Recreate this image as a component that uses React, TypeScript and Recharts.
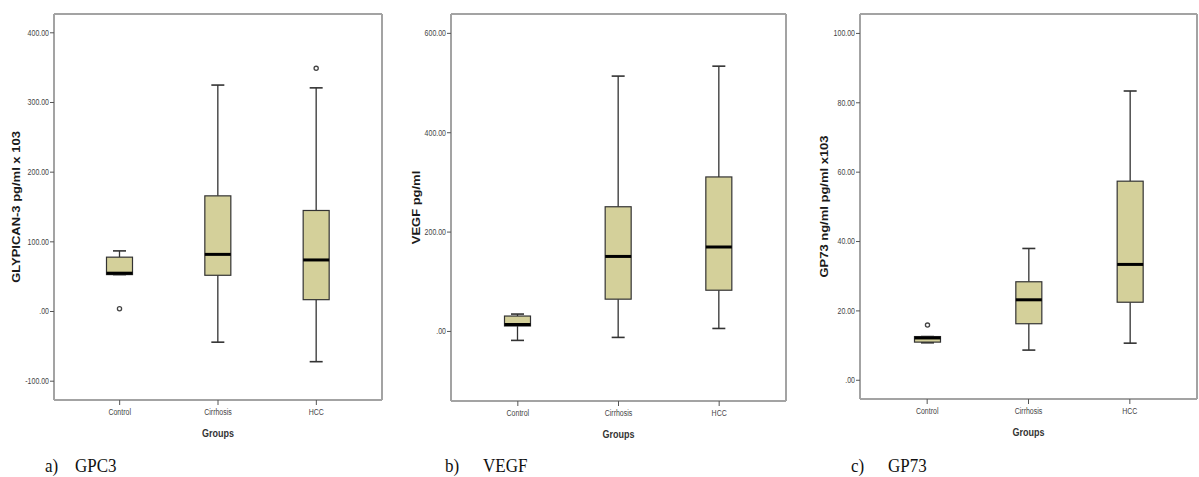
import React from 'react';
import { ComposedChart, Bar, XAxis, YAxis } from 'recharts';

// ---- categories ----
const groups = ['Control', 'Cirrhosis', 'HCC'];

// ---- a) GPC3 (GLYPICAN-3 pg/ml x 103) ----
const gpc3Min = [53, -44, -72];
const gpc3Q1 = [53, 52, 17];
const gpc3Median = [55, 82, 74];
const gpc3Q3 = [78, 166, 145];
const gpc3Max = [87, 325, 321];
const gpc3Outliers = [[4], [], [349]];
const gpc3Ticks = [-100, 0, 100, 200, 300, 400];
const gpc3Domain = [-127, 427];

// ---- b) VEGF pg/ml ----
const vegfMin = [-18, -12, 6];
const vegfQ1 = [11, 65, 83];
const vegfMedian = [14, 151, 170];
const vegfQ3 = [31, 251, 311];
const vegfMax = [35, 514, 534];
const vegfOutliers = [[], [], []];
const vegfTicks = [0, 200, 400, 600];
const vegfDomain = [-140, 639];

// ---- c) GP73 ng/ml pg/ml x103 ----
const gp73Min = [10.8, 8.7, 10.7];
const gp73Q1 = [11, 16.3, 22.5];
const gp73Median = [12.2, 23.2, 33.4];
const gp73Q3 = [12.6, 28.4, 57.4];
const gp73Max = [12.6, 38, 83.4];
const gp73Outliers = [[15.9], [], []];
const gp73Ticks = [0, 20, 40, 60, 80, 100];
const gp73Domain = [-5.4, 105.6];

type Row = {
  group: string;
  min: number;
  q1: number;
  median: number;
  q3: number;
  max: number;
  outliers: number[];
};

function buildRows(
  mn: number[],
  q1: number[],
  md: number[],
  q3: number[],
  mx: number[],
  out: number[][]
): Row[] {
  return groups.map((g, i) => ({
    group: g,
    min: mn[i],
    q1: q1[i],
    median: md[i],
    q3: q3[i],
    max: mx[i],
    outliers: out[i],
  }));
}

const gpc3Data = buildRows(gpc3Min, gpc3Q1, gpc3Median, gpc3Q3, gpc3Max, gpc3Outliers);
const vegfData = buildRows(vegfMin, vegfQ1, vegfMedian, vegfQ3, vegfMax, vegfOutliers);
const gp73Data = buildRows(gp73Min, gp73Q1, gp73Median, gp73Q3, gp73Max, gp73Outliers);

const BOX_FILL = '#d4d09a';
const LINE = '#333333';
const FRAME = '#a3a3a3';
const STRETCH = 1.3;

function BoxShape(props: any) {
  const { x, y, width, height, payload } = props;
  const p: Row = payload;
  const top = Math.min(y, y + height);
  const bottom = Math.max(y, y + height);
  const span = p.max - p.min;
  const yOf = (v: number) => (span === 0 ? top : top + ((p.max - v) / span) * (bottom - top));
  const cx = x + width / 2;
  const capHalf = width / 4;
  const yMax = yOf(p.max);
  const yQ3 = yOf(p.q3);
  const yMed = yOf(p.median);
  const yQ1 = yOf(p.q1);
  const yMin = yOf(p.min);
  return (
    <g>
      <line x1={cx} x2={cx} y1={yMax} y2={yQ3} stroke={LINE} strokeWidth={1.3} />
      <line x1={cx} x2={cx} y1={yQ1} y2={yMin} stroke={LINE} strokeWidth={1.3} />
      <line x1={cx - capHalf} x2={cx + capHalf} y1={yMax} y2={yMax} stroke={LINE} strokeWidth={1.6} />
      <line x1={cx - capHalf} x2={cx + capHalf} y1={yMin} y2={yMin} stroke={LINE} strokeWidth={1.6} />
      <rect
        x={x}
        y={yQ3}
        width={width}
        height={Math.max(0, yQ1 - yQ3)}
        fill={BOX_FILL}
        stroke={LINE}
        strokeWidth={1.2}
      />
      <line x1={x} x2={x + width} y1={yMed} y2={yMed} stroke="#000" strokeWidth={3} />
      {p.outliers.map((o, k) => (
        <circle key={k} cx={cx} cy={yOf(o)} r={2.1} fill="#fff" stroke="#444" strokeWidth={1.3} />
      ))}
    </g>
  );
}

const fmt = (v: number) => (v === 0 ? '.00' : v.toFixed(2));

function YTick(props: any) {
  const { x, y, payload } = props;
  return (
    <text
      transform={`translate(${x},${y}) scale(1,${STRETCH})`}
      textAnchor="end"
      dominantBaseline="central"
      fontSize={7}
      fill="#444"
      fontFamily="'Liberation Sans', Arial, sans-serif"
    >
      {fmt(payload.value)}
    </text>
  );
}

function XTick(props: any) {
  const { x, y, payload } = props;
  return (
    <text
      transform={`translate(${x},${y + 5}) scale(1,${STRETCH})`}
      textAnchor="middle"
      dominantBaseline="central"
      fontSize={7}
      fill="#444"
      fontFamily="'Liberation Sans', Arial, sans-serif"
    >
      {payload.value}
    </text>
  );
}

type PanelProps = {
  left: number;
  width: number;
  yAxisWidth: number;
  marginRight: number;
  xAxisHeight: number;
  data: Row[];
  ticks: number[];
  domain: number[];
  yLabel: string;
  yLabelX: number;
};

function Panel(pp: PanelProps) {
  const yLabelContent = (lp: any) => {
    const vb = lp.viewBox || {};
    const cx = (vb.x ?? 0) + pp.yLabelX;
    const cy = (vb.y ?? 0) + (vb.height ?? 0) / 2;
    return (
      <text
        transform={`translate(${cx},${cy}) scale(1,${STRETCH}) rotate(-90)`}
        textAnchor="middle"
        dominantBaseline="central"
        fontSize={10}
        fontWeight="bold"
        fill="#1a1a1a"
        fontFamily="'Liberation Sans', Arial, sans-serif"
      >
        {pp.yLabel}
      </text>
    );
  };
  const xLabelContent = (lp: any) => {
    const vb = lp.viewBox || {};
    const cx = (vb.x ?? 0) + (vb.width ?? 0) / 2;
    const cy = (vb.y ?? 0) + 33;
    return (
      <text
        transform={`translate(${cx},${cy}) scale(1,${STRETCH})`}
        textAnchor="middle"
        dominantBaseline="central"
        fontSize={9}
        fontWeight="bold"
        fill="#333"
        fontFamily="'Liberation Sans', Arial, sans-serif"
      >
        Groups
      </text>
    );
  };
  return (
    <div style={{ position: 'absolute', left: pp.left, top: 0 }}>
      <ComposedChart
        width={pp.width}
        height={477}
        data={pp.data}
        margin={{ top: 13, right: pp.marginRight - 1, bottom: 0, left: 0 }}
      >
        <XAxis
          dataKey="group"
          type="category"
          padding={{ left: 16.5, right: 16.5 }}
          height={pp.xAxisHeight}
          tickSize={5}
          tickMargin={2}
          tickLine={{ stroke: '#555', strokeWidth: 1 }}
          axisLine={{ stroke: FRAME, strokeWidth: 2 }}
          tick={<XTick />}
          interval={0}
          label={xLabelContent}
        />
        <XAxis
          xAxisId="top"
          dataKey="group"
          type="category"
          orientation="top"
          height={1}
          tick={false}
          tickLine={false}
          axisLine={{ stroke: FRAME, strokeWidth: 2 }}
        />
        <YAxis
          type="number"
          domain={pp.domain}
          allowDataOverflow
          ticks={pp.ticks}
          interval={0}
          width={pp.yAxisWidth}
          tickSize={4}
          tickMargin={1}
          tickLine={{ stroke: '#555', strokeWidth: 1 }}
          axisLine={{ stroke: FRAME, strokeWidth: 2 }}
          tick={<YTick />}
          label={yLabelContent}
        />
        <YAxis
          yAxisId="right"
          orientation="right"
          type="number"
          domain={pp.domain}
          allowDataOverflow
          width={1}
          tick={false}
          tickLine={false}
          axisLine={{ stroke: FRAME, strokeWidth: 2 }}
        />
        <Bar
          dataKey={(d: Row) => [d.min, d.max]}
          barSize={26}
          isAnimationActive={false}
          shape={BoxShape}
        />
        <Bar
          xAxisId="top"
          yAxisId="right"
          dataKey={(d: Row) => [d.min, d.max]}
          barSize={1}
          isAnimationActive={false}
          shape={() => <g />}
        />
      </ComposedChart>
    </div>
  );
}

const captions = [
  { letter: 'a)', name: 'GPC3', x1: 45, x2: 75 },
  { letter: 'b)', name: 'VEGF', x1: 445, x2: 483 },
  { letter: 'c)', name: 'GP73', x1: 851, x2: 888 },
];

export default function App() {
  return (
    <div
      style={{
        position: 'absolute',
        left: 0,
        top: 0,
        width: 1199,
        height: 477,
        background: '#fff',
        overflow: 'hidden',
      }}
    >
      <Panel
        left={0}
        width={400}
        yAxisWidth={54}
        marginRight={18}
        xAxisHeight={77}
        data={gpc3Data}
        ticks={gpc3Ticks}
        domain={gpc3Domain}
        yLabel="GLYPICAN-3 pg/ml x 103"
        yLabelX={17}
      />
      <Panel
        left={400}
        width={400}
        yAxisWidth={51}
        marginRight={14}
        xAxisHeight={76}
        data={vegfData}
        ticks={vegfTicks}
        domain={vegfDomain}
        yLabel="VEGF pg/ml"
        yLabelX={16.5}
      />
      <Panel
        left={800}
        width={399}
        yAxisWidth={60}
        marginRight={2}
        xAxisHeight={78}
        data={gp73Data}
        ticks={gp73Ticks}
        domain={gp73Domain}
        yLabel="GP73 ng/ml pg/ml x103"
        yLabelX={24.5}
      />
      <svg
        width={1199}
        height={477}
        style={{ position: 'absolute', left: 0, top: 0, pointerEvents: 'none' }}
      >
        {captions.map((c) => (
          <g key={c.letter} fontFamily="'Liberation Serif', 'Times New Roman', serif" fill="#111">
            <text transform={`translate(${c.x1},472) scale(1,1.15)`} fontSize={17}>
              {c.letter}
            </text>
            <text transform={`translate(${c.x2},472) scale(1,1.15)`} fontSize={17}>
              {c.name}
            </text>
          </g>
        ))}
      </svg>
    </div>
  );
}
